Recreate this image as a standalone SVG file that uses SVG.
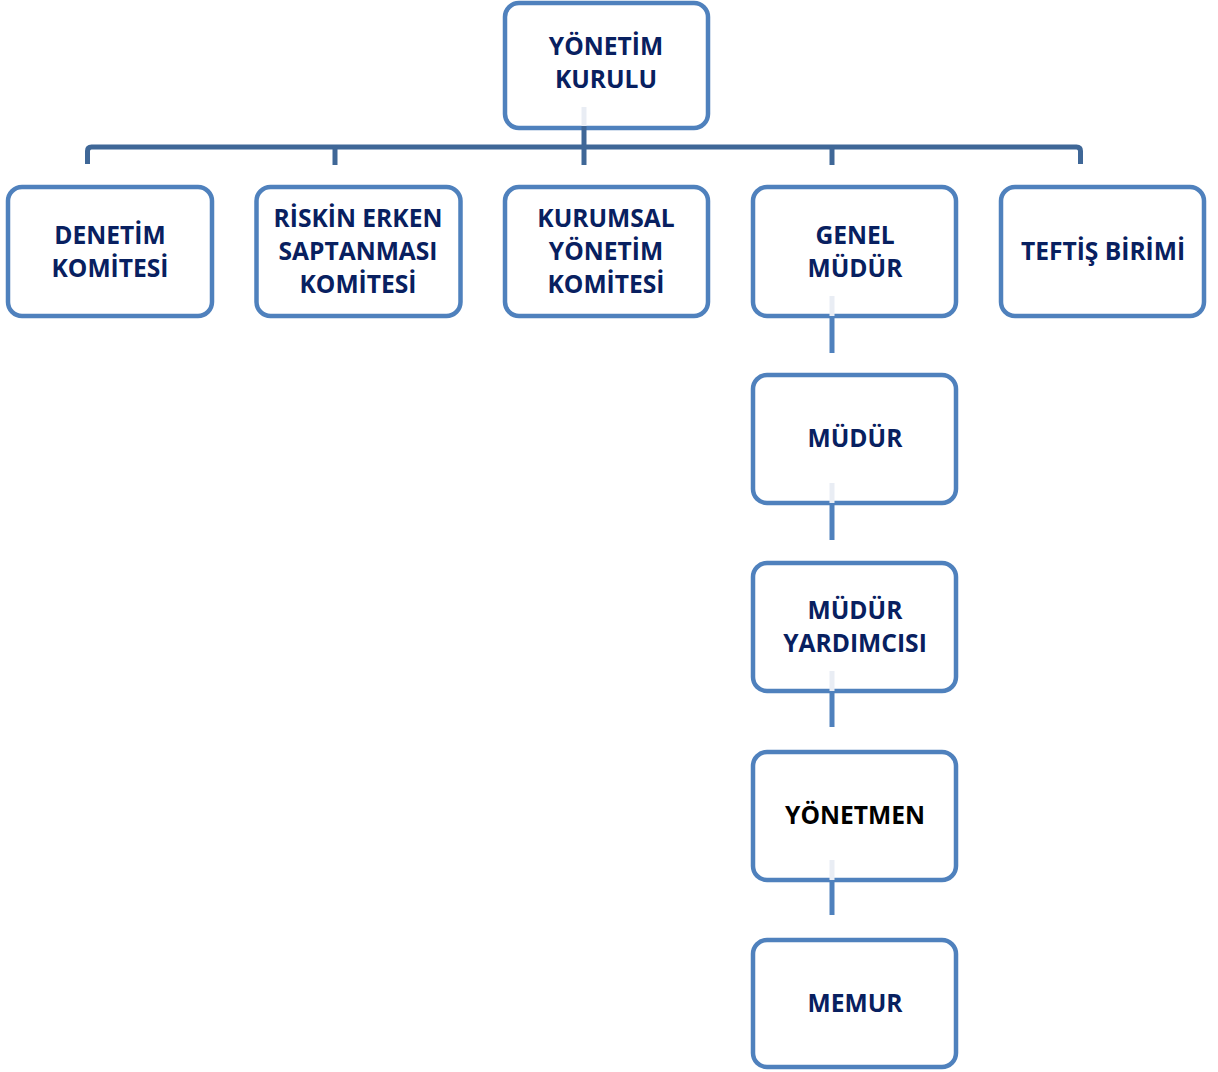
<svg xmlns="http://www.w3.org/2000/svg" width="1218" height="1072" viewBox="0 0 1218 1072">
<style>
.box{fill:#ffffff;stroke:#4f81bd;stroke-width:4.5}
.t{font-family:"Open Sans","Liberation Sans",sans-serif;font-weight:700;font-size:24.6px;fill:#082060;text-anchor:middle}
.blk{fill:#000000}
.hl{fill:none;stroke:#3f6797;stroke-width:5}
.vl{fill:none;stroke:#4f81bd;stroke-width:5}
.pale{fill:none;stroke:#e9edf4;stroke-width:5}
</style>
<g id="n-yonetim-kurulu">
<rect class="box" x="505" y="3" width="203" height="125" rx="14"/>
<text class="t" x="606" y="55">YÖNETİM</text>
<text class="t" x="606" y="88">KURULU</text>
</g>
<g id="n-denetim">
<rect class="box" x="8" y="187" width="204" height="129" rx="14"/>
<text class="t" x="110" y="244">DENETİM</text>
<text class="t" x="110" y="277">KOMİTESİ</text>
</g>
<g id="n-riskin">
<rect class="box" x="256.5" y="187" width="204" height="129" rx="14"/>
<text class="t" x="358" y="227">RİSKİN ERKEN</text>
<text class="t" x="358" y="260">SAPTANMASI</text>
<text class="t" x="358" y="293">KOMİTESİ</text>
</g>
<g id="n-kurumsal">
<rect class="box" x="505" y="187" width="203" height="129" rx="14"/>
<text class="t" x="606" y="227">KURUMSAL</text>
<text class="t" x="606" y="260">YÖNETİM</text>
<text class="t" x="606" y="293">KOMİTESİ</text>
</g>
<g id="n-genel-mudur">
<rect class="box" x="753" y="187" width="203" height="129" rx="14"/>
<text class="t" x="855" y="244">GENEL</text>
<text class="t" x="855" y="277">MÜDÜR</text>
</g>
<g id="n-teftis">
<rect class="box" x="1001" y="187" width="203" height="129" rx="14"/>
<text class="t" x="1103" y="260">TEFTİŞ BİRİMİ</text>
</g>
<g id="n-mudur">
<rect class="box" x="753" y="375" width="203" height="128" rx="14"/>
<text class="t" x="855" y="447">MÜDÜR</text>
</g>
<g id="n-mudur-yardimcisi">
<rect class="box" x="753" y="563" width="203" height="128" rx="14"/>
<text class="t" x="855" y="619">MÜDÜR</text>
<text class="t" x="855" y="652">YARDIMCISI</text>
</g>
<g id="n-yonetmen">
<rect class="box" x="753" y="752" width="203" height="128" rx="14"/>
<text class="t blk" x="855" y="824">YÖNETMEN</text>
</g>
<g id="n-memur">
<rect class="box" x="753" y="940" width="203" height="127" rx="14"/>
<text class="t" x="855" y="1012">MEMUR</text>
</g>
<g id="connectors">
<line class="pale" x1="584" y1="107" x2="584" y2="126"/>
<line class="hl" x1="584" y1="126" x2="584" y2="165"/>
<path class="hl" d="M87.5,164 V151 Q87.5,147 91.5,147 H1076.5 Q1080.5,147 1080.5,151 V164"/>
<line class="hl" x1="335" y1="147" x2="335" y2="165"/>
<line class="hl" x1="832" y1="147" x2="832" y2="165"/>
<line class="pale" x1="832" y1="296" x2="832" y2="316"/>
<line class="vl" x1="832" y1="316" x2="832" y2="353"/>
<line class="pale" x1="832" y1="483" x2="832" y2="503"/>
<line class="vl" x1="832" y1="503" x2="832" y2="540"/>
<line class="pale" x1="832" y1="671" x2="832" y2="691"/>
<line class="vl" x1="832" y1="691" x2="832" y2="727"/>
<line class="pale" x1="832" y1="860" x2="832" y2="880"/>
<line class="vl" x1="832" y1="880" x2="832" y2="915"/>
</g>
</svg>
